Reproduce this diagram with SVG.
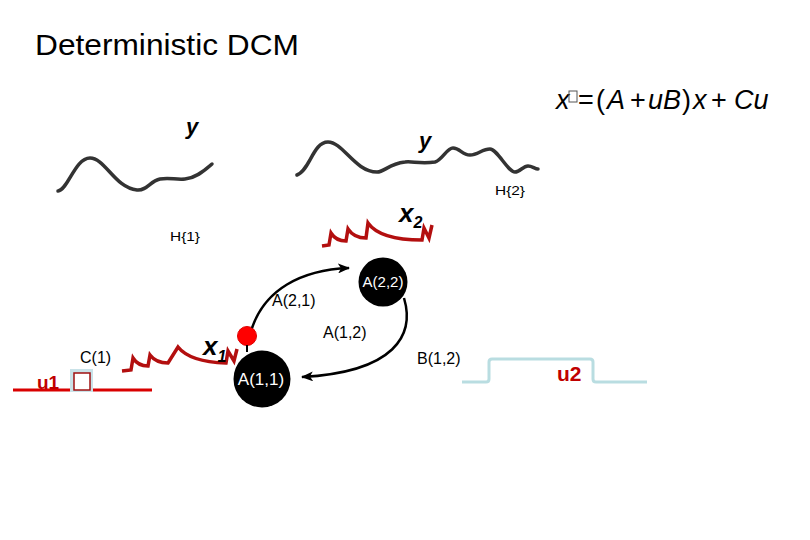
<svg xmlns="http://www.w3.org/2000/svg" width="810" height="540" viewBox="0 0 810 540">
<style>
  .sans { font-family: "Liberation Sans", Arial, sans-serif; }
  .lbl { font-family: "Liberation Sans", Arial, sans-serif; font-size: 16px; fill: #000; }
  .h { font-family: "Liberation Sans", Arial, sans-serif; font-size: 13px; fill: #000; }
  .var { font-family: "Liberation Sans", Arial, sans-serif; font-style: italic; font-weight: bold; fill: #000; }
  .eq { font-family: "Liberation Sans", Arial, sans-serif; font-size: 27px; fill: #000; }
  .it { font-style: italic; }
  .ysig { fill: none; stroke: #333; stroke-width: 3.5; stroke-linecap: round; stroke-linejoin: round; }
  .xsig { fill: none; stroke: #b30f0f; stroke-width: 3.5; stroke-linecap: butt; stroke-linejoin: miter; }
  .node { fill: #000; }
  .ntext { font-family: "Liberation Sans", Arial, sans-serif; fill: #fff; text-anchor: middle; }
  .conn { fill: none; stroke: #000; stroke-width: 2.5; }
  .u1 { stroke: #d90000; stroke-width: 3; fill: none; }
  .u2 { stroke: #b9dde1; stroke-width: 3; fill: none; }
  .utext { font-family: "Liberation Sans", Arial, sans-serif; font-weight: bold; fill: #c00000; }
</style>
<defs>
  <marker id="arrow" markerUnits="userSpaceOnUse" markerWidth="12" markerHeight="10" refX="11" refY="5" orient="auto">
    <path d="M0,0 L12,5 L0,10 L3,5 Z" fill="#000"/>
  </marker>
</defs>
<rect width="810" height="540" fill="#fff"/>

<text class="sans" x="35" y="55" font-size="30" textLength="264" lengthAdjust="spacingAndGlyphs">Deterministic DCM</text>

<g id="equation">
  <text class="eq"><tspan class="it" x="556" y="109">x</tspan><tspan x="578" y="109">=</tspan><tspan x="596" y="109">(</tspan><tspan class="it" x="607" y="109">A</tspan><tspan x="630" y="109">+</tspan><tspan class="it" x="648" y="109">uB</tspan><tspan x="682" y="109">)</tspan><tspan class="it" x="693" y="109">x</tspan><tspan x="711" y="109">+</tspan><tspan class="it" x="734" y="109">Cu</tspan></text>
  <rect x="569" y="91" width="8" height="11" fill="none" stroke="#555" stroke-width="1"/>
</g>

<g id="y1">
  <path class="ysig" d="M58,191 C68,190 75,158 90,158 C105,158 115,188 137,190 C147,191 150,181 160,179 C170,177 175,180 185,179 C195,178 203,172 212,164"/>
  <text class="var" x="186" y="134" font-size="22">y</text>
  <text class="h" x="170" y="241" textLength="30" lengthAdjust="spacingAndGlyphs">H{1}</text>
</g>

<g id="y2">
  <path class="ysig" d="M297,175 C310,170 313,142 328,142 C343,142 355,172 377,172 C385,172 388,164 405,162 C412,161 420,164 435,162 C442,160 447,148 453,148 C460,148 462,155 470,155 C478,155 482,149 490,149 C497,149 508,172 515,172 C520,172 523,166 528,166 C532,166 535,169 538,169"/>
  <text class="var" x="419" y="148" font-size="22">y</text>
  <text class="h" x="495" y="195" textLength="30" lengthAdjust="spacingAndGlyphs">H{2}</text>
</g>

<g id="x2">
  <path class="xsig" d="M322,246 L329,245 L331,233 Q336,241 346,241 L348,229 Q354,238 366,238 L368,223 Q380,240 422,240 L424,228 L429,238 L432,225"/>
  <text class="var" x="399" y="222" font-size="26">x<tspan font-size="16" dy="6">2</tspan></text>
</g>

<g id="x1">
  <path class="xsig" d="M122,371 L131,370 L133,358 Q138,366 148,366 L150,355 Q156,363 168,363 L178,347 Q190,362 226,363 L228,351 L234,361 L237,349"/>
  <text class="var" x="203" y="355" font-size="26">x<tspan font-size="16" dy="7">1</tspan></text>
</g>

<g id="input-dot">
  <circle cx="247" cy="336" r="9.5" fill="#ff0000" stroke="#e00000" stroke-width="1"/>
  <line x1="247" y1="345" x2="247" y2="352" stroke="#000" stroke-width="2"/>
</g>

<g id="node-A11">
  <circle class="node" cx="262" cy="379" r="28.5"/>
  <text class="ntext" x="261" y="385" font-size="17">A(1,1)</text>
</g>

<g id="node-A22">
  <circle class="node" cx="383" cy="282" r="24.5"/>
  <text class="ntext" x="383" y="287" font-size="15">A(2,2)</text>
</g>

<g id="connectors">
  <path class="conn" d="M252,328 C265,290 300,270 349,268" marker-end="url(#arrow)"/>
  <path class="conn" d="M404,298 C415,335 395,372 302,377" marker-end="url(#arrow)"/>
</g>

<g id="labels">
  <text class="lbl" x="272" y="306">A(2,1)</text>
  <text class="lbl" x="323" y="338">A(1,2)</text>
  <text class="lbl" x="417" y="364">B(1,2)</text>
  <text class="lbl" x="80" y="363">C(1)</text>
</g>

<g id="u1">
  <line class="u1" x1="13" y1="390" x2="70" y2="390"/>
  <line class="u1" x1="93" y1="390" x2="152" y2="390"/>
  <rect x="70" y="369" width="23" height="23" fill="#c9e2e8"/>
  <rect x="74" y="373" width="16" height="17" fill="#fff" stroke="#a01010" stroke-width="1.5"/>
  <text class="utext" x="37" y="389" font-size="19">u1</text>
</g>

<g id="u2">
  <path class="u2" d="M462,382 L486,382 Q489,382 489,379 L489,362 Q489,359 492,359 L590,359 Q593,359 593,362 L593,379 Q593,382 596,382 L647,382"/>
  <text class="utext" x="557" y="381" font-size="21">u2</text>
</g>
</svg>
